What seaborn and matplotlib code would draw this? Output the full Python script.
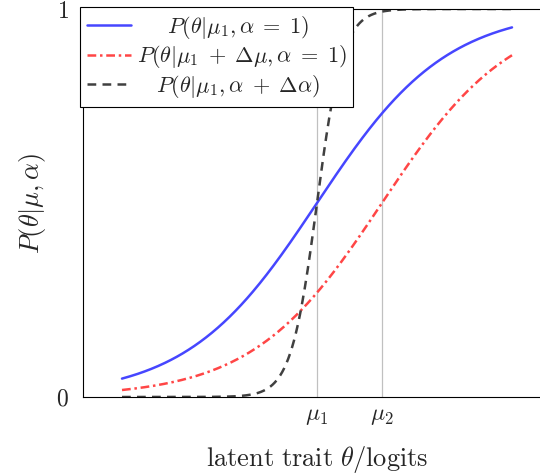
import numpy as np
import pandas as pd
import matplotlib
matplotlib.use("Agg")
import matplotlib.pyplot as plt
import seaborn as sns

# ---- data (model parameters) ----
mu_values = [0.0, 1.0]               # mu_1, mu_2 (logits)
mu_labels = [r"$\mu_1$", r"$\mu_2$"]
curve_labels = [
    r"$\quad\;\; P(\theta|\mu_1,\alpha\;=\;1)$",
    r"$P(\theta|\mu_1\;+\;\Delta\mu,\alpha\;=\;1)$",
    r"$\quad P(\theta|\mu_1,\alpha\;+\;\Delta\alpha)$",
]
curve_mu = [0.0, 1.0, 0.0]
curve_alpha = [1.0, 1.0, 5.0]
theta_range = [-3.0, 3.0]
y_ticks = [0, 1]
y_ticklabels = ["$0$", "$1$"]

colors = ["#4646ff", "#ff4646", "#404040"]
dashes = [(None, None), (3.5, 1.5, 1, 1.5), (3.5, 2.5)]

sns.set_style("white")
plt.rcParams["mathtext.fontset"] = "cm"
plt.rcParams["font.family"] = ["DejaVu Serif"]

fig = plt.figure(figsize=(5.4, 4.75), dpi=100)
ax = fig.add_axes([83 / 540, 78 / 475, (551 - 83) / 540, (466 - 78) / 475])

theta = np.linspace(theta_range[0], theta_range[1], 400)
for lab, m, a, c, d in zip(curve_labels, curve_mu, curve_alpha, colors, dashes):
    p = 1.0 / (1.0 + np.exp(-a * (theta - m)))
    df = pd.DataFrame({"theta": theta, "p": p})
    line_kw = {} if d[0] is None else {"dashes": d}
    sns.lineplot(data=df, x="theta", y="p", ax=ax, color=c, lw=1.8,
                 label=lab, **line_kw)

for m in mu_values:
    ax.axvline(m, color="#c0c0c0", lw=0.9, zorder=0)

ax.set_xlim(-3.6, 3.6)
ax.set_ylim(0, 1)
ax.set_xticks(mu_values)
ax.set_xticklabels(mu_labels, fontsize=17)
ax.set_yticks(y_ticks)
ax.set_yticklabels(y_ticklabels, fontsize=17)
ax.tick_params(axis="x", direction="in", length=4, color="#888888", pad=5)
ax.tick_params(axis="y", direction="in", length=0, pad=10)

for s in ax.spines.values():
    s.set_color("black")
    s.set_linewidth(0.8)
ax.spines["right"].set_visible(False)

ax.set_xlabel(r"$\mathrm{latent\ trait}\ \theta/\mathrm{logits}$", fontsize=19, labelpad=12)
ax.set_ylabel(r"$P(\theta|\mu,\alpha)$", fontsize=19, labelpad=6)

leg = ax.legend(loc="upper left", bbox_to_anchor=(80 / 540, 1 - 7 / 475),
                bbox_transform=fig.transFigure, borderaxespad=0,
                fontsize=16, frameon=True, fancybox=False, framealpha=1,
                edgecolor="black", handlelength=2.0, borderpad=0.3,
                labelspacing=0.12, handletextpad=0.25)
leg.get_frame().set_linewidth(0.8)

fig.savefig("out.png", dpi=100)
